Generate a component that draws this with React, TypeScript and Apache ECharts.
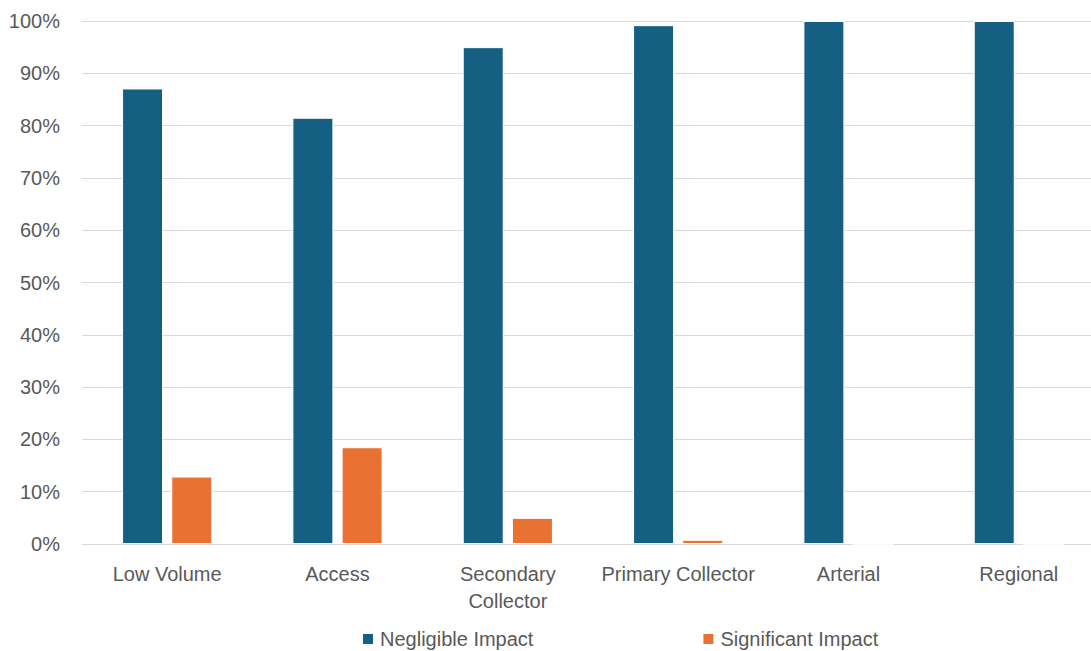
import React, { useEffect, useRef } from "react";
import * as echarts from "echarts";

const categories = ["Low Volume", "Access", "Secondary\nCollector", "Primary Collector", "Arterial", "Regional"];
const negligible = [87.1, 81.5, 95.0, 99.2, 100, 100];
const significant = [12.9, 18.5, 5.0, 0.8, 0, 0];
const seriesNames = ["Negligible Impact", "Significant Impact"];

export default function App() {
  const ref = useRef<HTMLDivElement>(null);
  useEffect(() => {
    if (!ref.current) return;
    const chart = echarts.init(ref.current, undefined, { renderer: "svg" });
    const textColor = "#595959";
    const font = "Liberation Sans";
    chart.setOption({
      animation: false,
      backgroundColor: "#ffffff",
      grid: {
        left: 82,
        width: 1022,
        top: 21,
        bottom: 107,
        containLabel: false,
        outerBoundsMode: "none",
      },
      legend: {
        left: 361,
        top: 629,
        padding: 0,
        itemWidth: 12,
        itemHeight: 12,
        itemGap: 168,
        icon: "rect",
        textStyle: { color: textColor, fontSize: 20, fontFamily: font, padding: [0, 0, 0, 1] },
        data: seriesNames,
      },
      xAxis: {
        type: "category",
        data: categories,
        axisLine: { lineStyle: { color: "#d9d9d9", width: 1 } },
        axisTick: { show: false },
        axisLabel: {
          color: textColor,
          fontSize: 20,
          fontFamily: font,
          margin: 16,
          lineHeight: 27,
          interval: 0,
        },
      },
      yAxis: {
        type: "value",
        min: 0,
        max: 100,
        interval: 10,
        axisLine: { show: false },
        axisTick: { show: false },
        splitLine: { lineStyle: { color: "#d9d9d9", width: 1 } },
        axisLabel: {
          color: textColor,
          fontSize: 20,
          fontFamily: font,
          margin: 22,
          formatter: (v: number) => `${v}%`,
        },
      },
      series: [
        {
          name: seriesNames[0],
          type: "bar",
          data: negligible,
          barWidth: 41,
          barGap: "20%",
          itemStyle: { color: "#156082", borderColor: "#ffffff", borderWidth: 1 },
        },
        {
          name: seriesNames[1],
          type: "bar",
          data: significant,
          barWidth: 41,
          itemStyle: { color: "#E97132", borderColor: "#ffffff", borderWidth: 1 },
        },
      ],
    });
    return () => chart.dispose();
  }, []);
  return <div ref={ref} style={{ position: "fixed", left: 0, top: 0, width: 1091, height: 651 }} />;
}
